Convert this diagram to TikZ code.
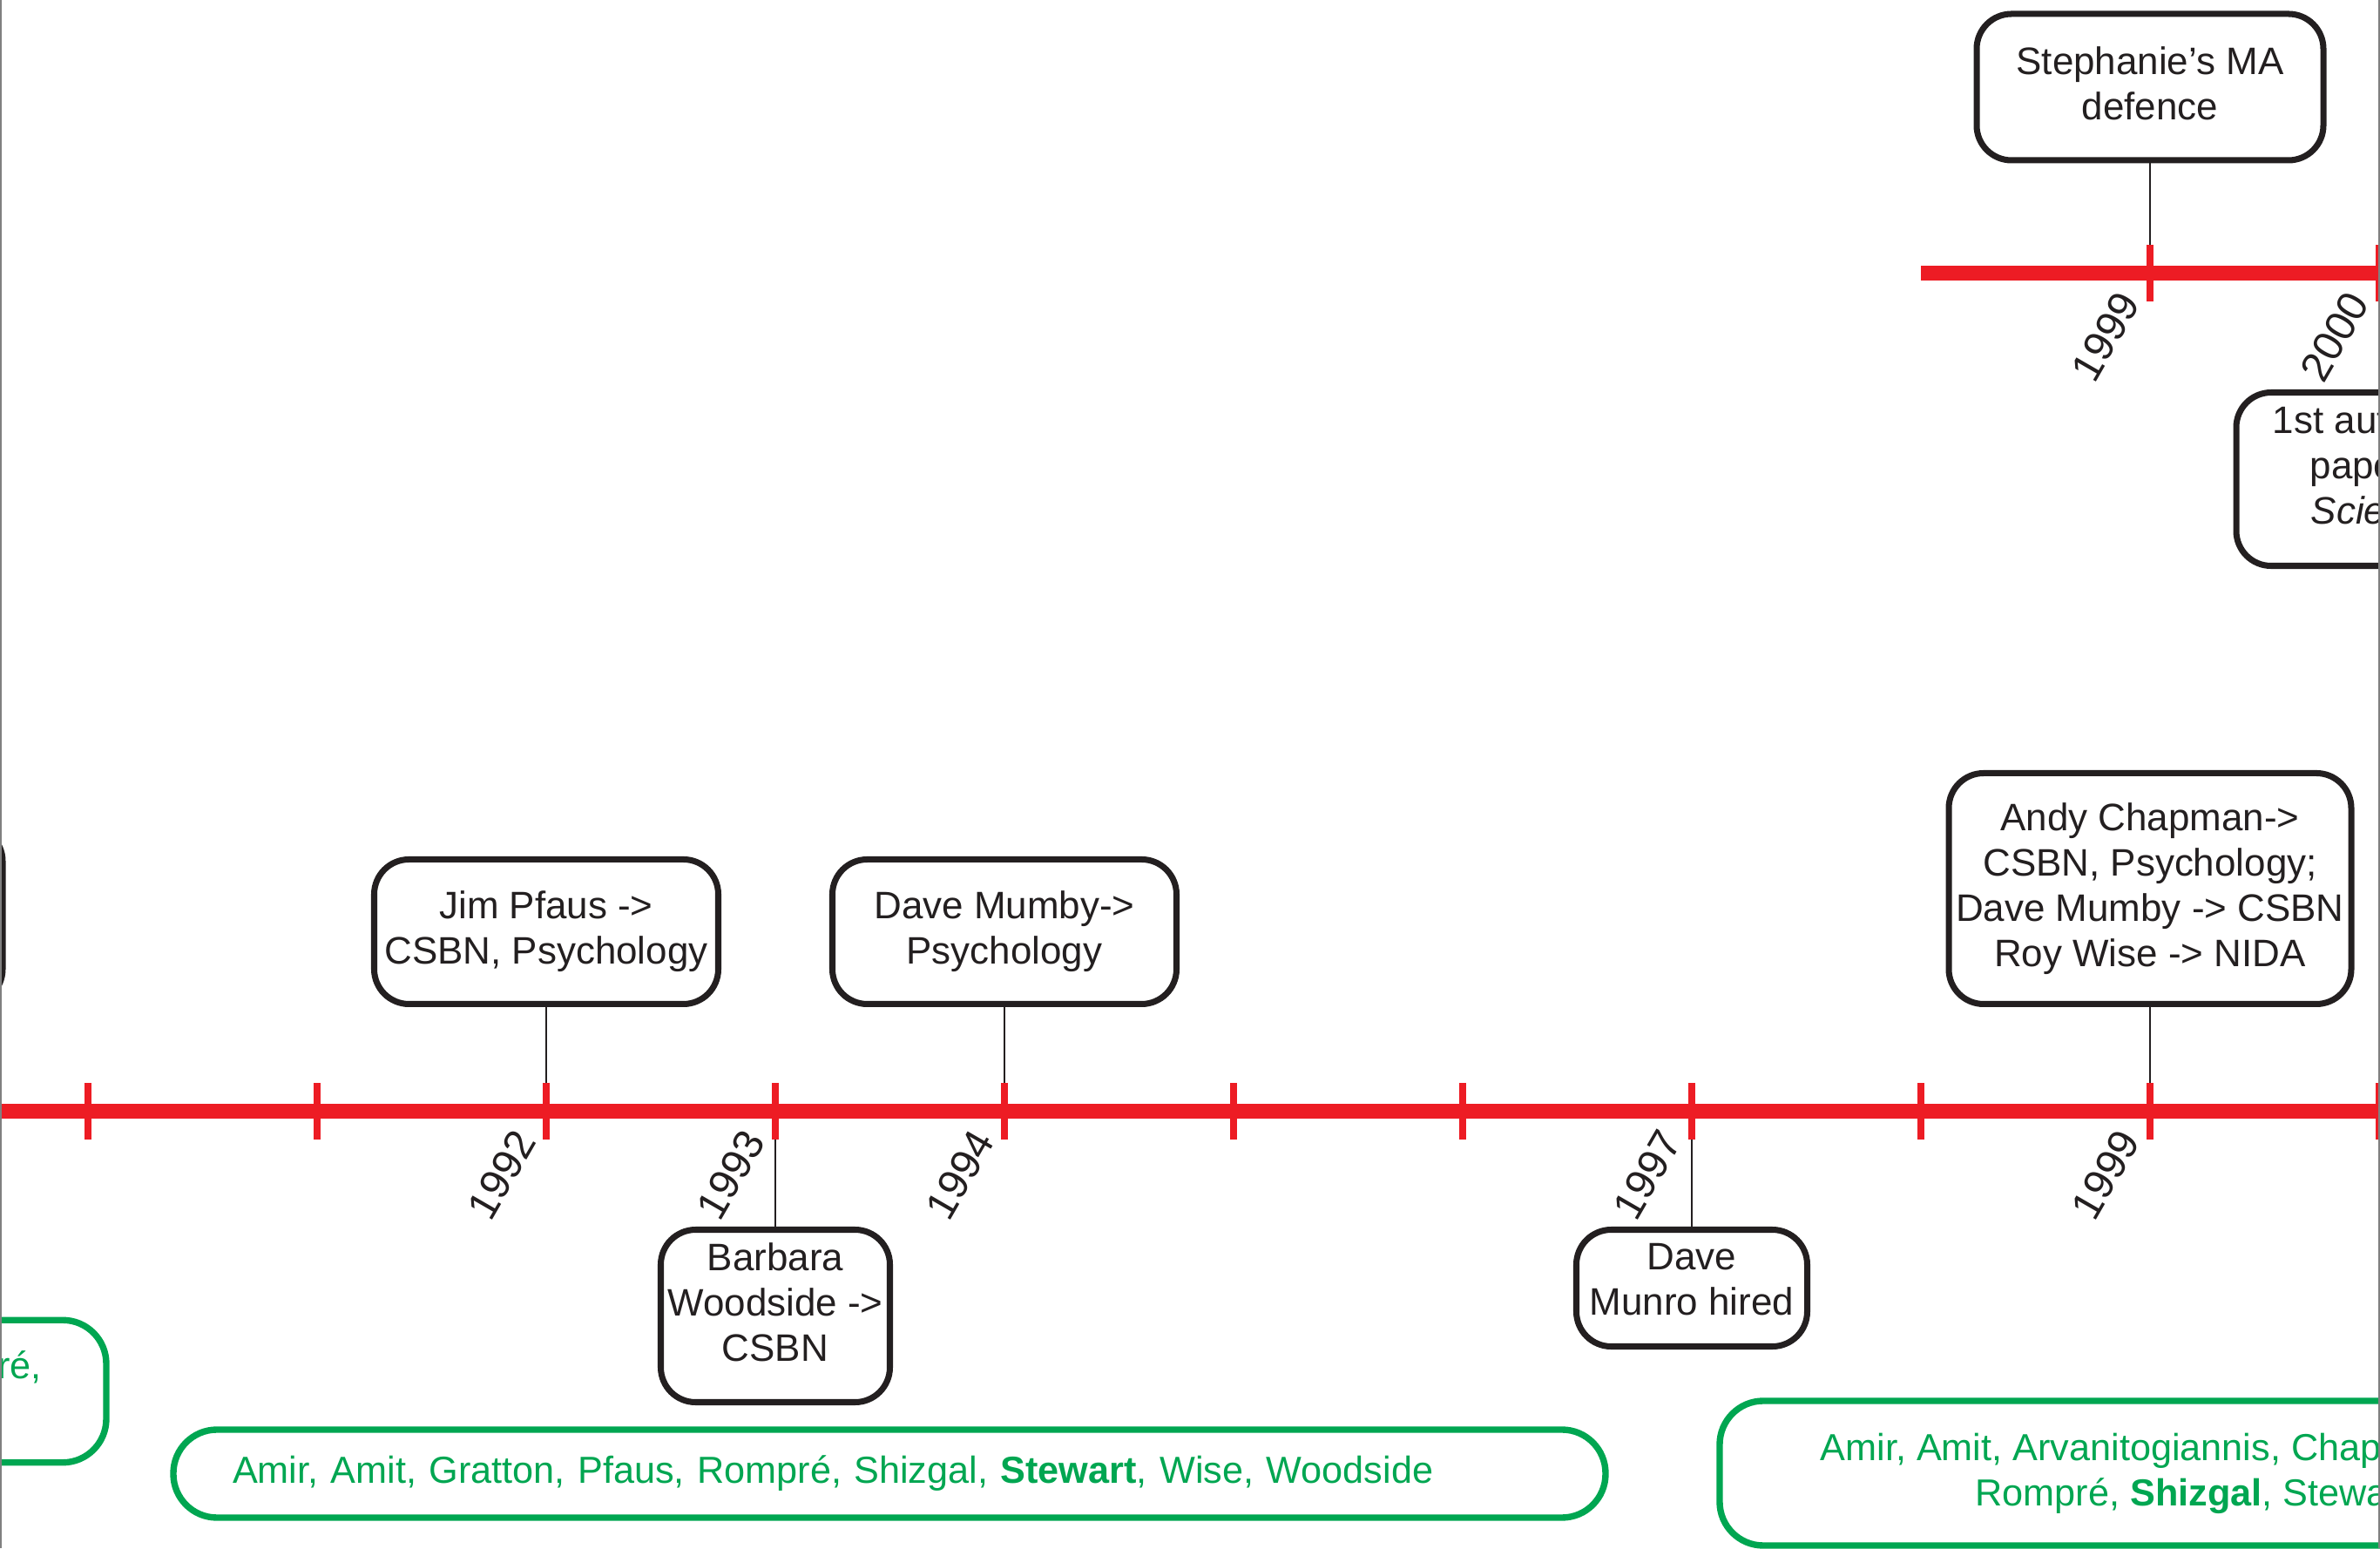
\documentclass[tikz,border=0pt]{standalone}
\usepackage{fontspec}
\setmainfont{Liberation Sans}
\usetikzlibrary{positioning}
\definecolor{lineRed}{RGB}{237,28,36}
\definecolor{staffGreen}{RGB}{0,166,81}
\definecolor{inkBlack}{RGB}{35,31,32}

\begin{document}
\begin{tikzpicture}[font=\fontsize{12.5}{14.8}\selectfont, text=inkBlack]
    \tikzstyle{event}=[draw=inkBlack, line width=2pt, rounded corners=0.4cm, fill=white, align=center, inner sep=2pt]
    \tikzstyle{staff}=[draw=staffGreen, text=staffGreen, line width=2.1pt, rounded corners=0.5cm, align=center, font=\fontsize{12.3}{14.8}\selectfont]
    \tikzstyle{yeartick}=[draw=lineRed, line width=2.1pt]
    \tikzstyle{yearbar}=[draw=lineRed, line width=4.8pt]
    \tikzstyle{yearlabel}=[anchor=east, rotate=60, inner sep=0pt, font=\fontsize{13.7}{16}\selectfont]
    \tikzstyle{link}=[draw=inkBlack, line width=0.7pt]
    \useasboundingbox (0,0) rectangle (27.32,17.77);
    \clip (0,0) rectangle (27.32,17.77);
    % Year positions on the two time lines
    \foreach \y in {1989,...,2000}
        \coordinate (L-\y) at ({6.27+2.63*(\y-1992)},5.015);
    \foreach \y in {1998,1999,2000}
        \coordinate (T-\y) at ({6.27+2.63*(\y-1992)},14.635);
    % Events above the lower line
    \node[event, minimum width=3.3cm, minimum height=2.04cm, above=1.195cm of L-1989] (E-1989) {};
    \node[event, minimum width=3.95cm, minimum height=1.66cm, above=1.195cm of L-1992] (E-1992) {Jim Pfaus ->\\CSBN, Psychology};
    \node[event, minimum width=3.95cm, minimum height=1.66cm, above=1.195cm of L-1994] (E-1994) {Dave Mumby->\\Psychology};
    \node[event, minimum width=4.62cm, minimum height=2.65cm, above=1.195cm of L-1999] (E-1999) {Andy Chapman->\\CSBN, Psychology;\\Dave Mumby -> CSBN\\Roy Wise -> NIDA};
    % Events below the lower line (text sits high in the box)
    \node[event, minimum width=2.63cm, minimum height=1.98cm, below=1.325cm of L-1993] (E-1993) {Barbara\\Woodside ->\\CSBN\\[-0.2cm]\mbox{}};
    \node[event, minimum width=2.65cm, minimum height=1.34cm, below=1.325cm of L-1997] (E-1997) {Dave\\Munro hired\\[-0.32cm]\mbox{}};
    % Events on the upper line
    \node[event, minimum width=3.98cm, minimum height=1.68cm, above=1.26cm of T-1999] (F-1999) {Stephanie’s MA\\defence\\[-0.44cm]\mbox{}};
    \node[event, minimum width=3.28cm, minimum height=1.99cm, below=1.335cm of T-2000] (F-2000) {1st authored\\paper in\\\textit{Science}\\[-0.2cm]\mbox{}};
    % Connect events to their years
    \foreach \y in {1989,1992,1994,1999}
        \path[link] (E-\y.south) -- (L-\y);
    \foreach \y in {1993,1997}
        \path[link] (E-\y.north) -- (L-\y);
    \path[link] (F-1999.south) -- (T-1999);
    \path[link] (F-2000.north) -- (T-2000);
    % Time lines and ticks
    \path[yearbar] (L-1989) -- ([xshift=1cm]L-2000);
    \path[yearbar] (T-1998) -- ([xshift=1cm]T-2000);
    \foreach \y in {1989,...,2000}
        \path[yeartick] ([yshift=0.32cm]L-\y) -- ([yshift=-0.33cm]L-\y);
    \foreach \y in {1999,2000}
        \path[yeartick] ([yshift=0.32cm]T-\y) -- ([yshift=-0.33cm]T-\y);
    \foreach \y in {1992,1993,1994,1997,1999}
        \node[yearlabel] (Y-\y) at ([shift={(-0.24,-0.26)}]L-\y) {\y};
    \foreach \y in {1999,2000}
        \node[yearlabel] (Z-\y) at ([shift={(-0.24,-0.26)}]T-\y) {\y};
    % Lab members
    \node[staff, minimum width=7.03cm, minimum height=1.635cm] (S-early) at (-2.295,1.80) {Amir, Amit, Gratton, Rompré,\\Shizgal, Stewart, Wise};
    \node[staff, text width=15.08cm, inner xsep=0.68cm, minimum height=1.01cm, align=left] (S-mid) at (10.21,0.855) {Amir, Amit, Gratton, Pfaus, Rompré, Shizgal, \textbf{Stewart}, Wise, Woodside};
    \node[staff, minimum width=13.02cm, minimum height=1.66cm] (S-late) at (26.25,0.86) {Amir, Amit, Arvanitogiannis, Chapman, Gratton, Mumby,\\Rompré, \textbf{Shizgal}, Stewart, Woodside};
    % Page edges
    \draw[gray, line width=0.6pt] (0.01,0) -- (0.01,17.77);
    \draw[gray, line width=0.6pt] (27.31,0) -- (27.31,17.77);
\end{tikzpicture}
\end{document}
